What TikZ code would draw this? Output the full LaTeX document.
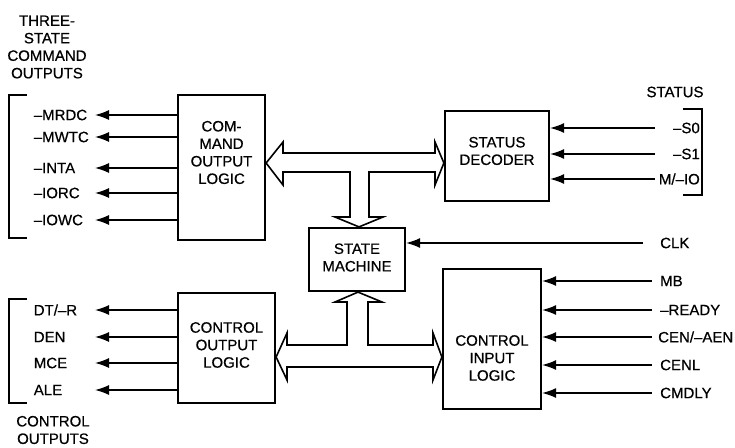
\documentclass[tikz,border=0pt]{standalone}
\usepackage{fontspec}
\setmainfont{Liberation Sans}[FakeBold=0.6]
\usetikzlibrary{arrows.meta,calc}
\tikzset{
  blk/.style={draw,line width=2.2pt,inner sep=0pt},
  lbl/.style={inner sep=0pt,align=center},
  sig/.style={-{Latex[length=14pt,width=10pt]},line width=1.4pt},
  bus/.style={draw,line width=1.6pt,fill=white,line join=miter},
  brk/.style={line width=1.4pt},
  outl/.style={anchor=east,inner sep=0pt,text width=61pt,align=left},
  stl/.style={anchor=east,inner sep=0pt,text width=45pt,align=right},
  inl/.style={anchor=west,inner sep=0pt}
}
\begin{document}
\begin{tikzpicture}[x=1pt,y=-1pt,font=\fontsize{15}{17.5}\selectfont]
\useasboundingbox (0,0) rectangle (735,447);
% blocks
\node[blk,minimum width=87,minimum height=145,label={[lbl,yshift=15pt]center:COM-\\MAND\\OUTPUT\\LOGIC}] (cmd) at (221.5,167.5) {};
\node[blk,minimum width=104,minimum height=90,label={[lbl,yshift=5pt]center:STATUS\\DECODER}] (sd) at (497,156) {};
\node[blk,minimum width=96,minimum height=63,label={[lbl,yshift=2pt]center:STATE\\MACHINE}] (sm) at (357,259.5) {};
\node[blk,minimum width=97,minimum height=110,label={[lbl,yshift=3pt]center:CONTROL\\OUTPUT\\LOGIC}] (col) at (226.5,348) {};
\node[blk,minimum width=98,minimum height=140,label={[lbl,yshift=-19pt]center:CONTROL\\INPUT\\LOGIC}] (cil) at (492,339) {};
% wide buses
\path[bus] (cmd.east |- 0,163) -- (283,142) -- (283,153) -- (435,153) -- (435,142) -- (sd.west |- 0,163)
  -- (435,185) -- (435,172) -- (369,172) -- (369,217) -- (383,217) -- (sm.north -| 359,0) -- (335,217)
  -- (350,217) -- (350,172) -- (283,172) -- (283,185) -- cycle;
\path[bus] (sm.south -| 358,0) -- (382,302) -- (368,302) -- (368,345) -- (433,345) -- (433,333) -- (cil.west |- 0,357)
  -- (433,380) -- (433,367) -- (287,367) -- (287,380) -- (col.east |- 0,357) -- (287,333) -- (287,345)
  -- (347,345) -- (347,302) -- (335,302) -- cycle;
% three-state command outputs
\node[lbl] (tsco) at (47,47) {THREE-\\STATE\\COMMAND\\OUTPUTS};
\node[outl] (mrdc) at (95,115) {–MRDC};
\node[outl] (mwtc) at (95,137) {–MWTC};
\node[outl] (inta) at (95,168) {–INTA};
\node[outl] (iorc) at (95,193) {–IORC};
\node[outl] (iowc) at (95,220) {–IOWC};
\draw[sig] (cmd.west |- mrdc) -- (mrdc);
\draw[sig] (cmd.west |- mwtc) -- (mwtc);
\draw[sig] (cmd.west |- inta) -- (inta);
\draw[sig] (cmd.west |- iorc) -- (iorc);
\draw[sig] (cmd.west |- iowc) -- (iowc);
\draw[brk] (27,95) -- (9,95) -- (9,238) -- (27,238);
% control outputs
\node[outl] (dtr) at (95,310) {DT/–R};
\node[outl] (den) at (95,337) {DEN};
\node[outl] (mce) at (95,363) {MCE};
\node[outl] (ale) at (95,390) {ALE};
\draw[sig] (col.west |- dtr) -- (dtr);
\draw[sig] (col.west |- den) -- (den);
\draw[sig] (col.west |- mce) -- (mce);
\draw[sig] (col.west |- ale) -- (ale);
\draw[brk] (27,299) -- (9,299) -- (9,403) -- (27,403);
\node[lbl] (cout) at (53,430) {CONTROL\\OUTPUTS};
% status inputs
\node[lbl] (stat) at (675,92) {STATUS};
\node[stl] (sz) at (700,128) {–S0};
\node[stl] (so) at (700,154) {–S1};
\node[stl] (mio) at (700,179) {M/–IO};
\draw[sig] ([xshift=-45pt]sz.east) -- (sd.east |- sz);
\draw[sig] ([xshift=-45pt]so.east) -- (sd.east |- so);
\draw[sig] (mio) -- (sd.east |- mio);
\draw[brk] (683,109) -- (702,109) -- (702,195) -- (683,195);
% clock and control inputs
\node[inl] (clk) at (660,243) {CLK};
\draw[sig] ([xshift=-17pt]clk.west) -- (sm.east |- clk);
\node[inl] (mb) at (660,281) {MB};
\node[inl] (rdy) at (660,310) {–READY};
\node[inl] (cen) at (658,337) {CEN/–AEN};
\node[inl] (cenl) at (660,365) {CENL};
\node[inl] (cmdly) at (660,393) {CMDLY};
\draw[sig] ([xshift=-8pt]mb.west) -- (cil.east |- mb);
\draw[sig] ([xshift=-8pt]rdy.west) -- (cil.east |- rdy);
\draw[sig] ([xshift=-6pt]cen.west) -- (cil.east |- cen);
\draw[sig] ([xshift=-8pt]cenl.west) -- (cil.east |- cenl);
\draw[sig] ([xshift=-8pt]cmdly.west) -- (cil.east |- cmdly);
\end{tikzpicture}
\end{document}
